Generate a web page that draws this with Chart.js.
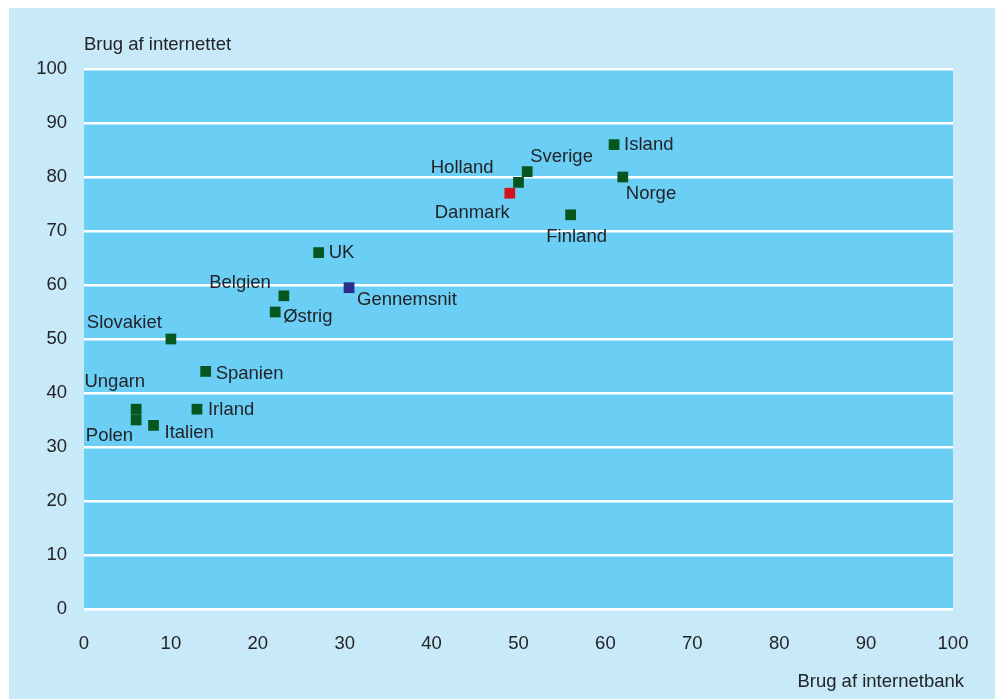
<!DOCTYPE html>
<html>
<head>
<meta charset="utf-8">
<script src="https://cdn.jsdelivr.net/npm/chart.js@4/dist/chart.umd.min.js"></script>
<style>
  html, body { margin: 0; padding: 0; background: #fff; }
  #wrap { width: 995px; height: 699px; position: relative; }
</style>
</head>
<body>
<div id="wrap"><canvas id="scatter" width="995" height="699"></canvas></div>
<script>
// Countries, share using internet banking (x) and share using the internet (y)
const countries = ["Island", "Norge", "Sverige", "Holland", "Danmark", "Finland", "UK",
  "Gennemsnit", "Belgien", "Østrig", "Slovakiet", "Spanien", "Irland", "Ungarn", "Polen", "Italien"];
const internetbank = [61, 62, 51, 50, 49, 56, 27, 30.5, 23, 22, 10, 14, 13, 6, 6, 8];
const internettet = [86, 80, 81, 79, 77, 73, 66, 59.5, 58, 55, 50, 44, 37, 37, 35, 34];
const tickValues = [0, 10, 20, 30, 40, 50, 60, 70, 80, 90, 100];

const xTitle = "Brug af internetbank";
const yTitle = "Brug af internettet";

// where each country name sits relative to its marker
const labelPlacement = {
  Island:     { dx: 10, dy: 0,   align: "left" },
  Norge:      { dx: 3,  dy: 17,  align: "left" },
  Sverige:    { dx: 3,  dy: -15, align: "left" },
  Holland:    { dx: -25, dy: -14, align: "right" },
  Danmark:    { dx: 0,  dy: 20,  align: "right" },
  Finland:    { dx: 6,  dy: 22,  align: "center" },
  UK:         { dx: 10, dy: 0,   align: "left" },
  Gennemsnit: { dx: 8,  dy: 12,  align: "left" },
  Belgien:    { dx: -13, dy: -13, align: "right" },
  "Østrig":   { dx: 8,  dy: 5,   align: "left" },
  Slovakiet:  { dx: -9, dy: -16, align: "right" },
  Spanien:    { dx: 10, dy: 3,   align: "left" },
  Irland:     { dx: 11, dy: 1,   align: "left" },
  Ungarn:     { dx: 9,  dy: -27, align: "right" },
  Polen:      { dx: -3, dy: 16,  align: "right" },
  Italien:    { dx: 11, dy: 8,   align: "left" }
};

const GREEN = "#06571f";
const pointColors = countries.map(c =>
  c === "Danmark" ? "#d2121f" : c === "Gennemsnit" ? "#2b2d8c" : GREEN);

const FONT = "'Liberation Sans', Arial, sans-serif";
const FONT_SIZE = 18.5;
const TEXT = "#232327";

const panelBackground = {
  id: "panelBackground",
  beforeDraw(chart) {
    const { ctx, chartArea: a } = chart;
    ctx.save();
    ctx.fillStyle = "#ffffff";
    ctx.fillRect(0, 0, chart.width, chart.height);
    ctx.fillStyle = "#c7e9f8";
    ctx.fillRect(9, 8, chart.width - 9, chart.height - 8);
    ctx.fillStyle = "#6bcff5";
    ctx.fillRect(a.left, a.top, a.right - a.left, a.bottom - a.top);
    ctx.restore();
  }
};

const pointNames = {
  id: "pointNames",
  afterDatasetsDraw(chart) {
    const { ctx } = chart;
    const meta = chart.getDatasetMeta(0);
    ctx.save();
    ctx.font = FONT_SIZE + "px " + FONT;
    ctx.fillStyle = TEXT;
    ctx.textBaseline = "middle";
    meta.data.forEach((pt, i) => {
      const p = labelPlacement[countries[i]];
      ctx.textAlign = p.align;
      ctx.fillText(countries[i], pt.x + p.dx, pt.y + p.dy);
    });
    // axis titles
    ctx.textAlign = "left";
    ctx.fillText(yTitle, 84, 45);
    ctx.textAlign = "right";
    ctx.fillText(xTitle, 964, 682);
    ctx.restore();
  }
};

new Chart(document.getElementById("scatter"), {
  type: "scatter",
  data: {
    datasets: [{
      data: countries.map((c, i) => ({ x: internetbank[i], y: internettet[i] })),
      pointStyle: "rect",
      pointRadius: 7.6,
      pointHoverRadius: 7.6,
      pointBackgroundColor: pointColors,
      pointBorderColor: pointColors,
      pointBorderWidth: 0
    }]
  },
  options: {
    responsive: false,
    animation: false,
    layout: { padding: { top: 69, right: 42, left: 0, bottom: 0 } },
    plugins: { legend: { display: false }, tooltip: { enabled: false } },
    scales: {
      x: {
        type: "linear", min: 0, max: 100,
        afterBuildTicks: s => { s.ticks = tickValues.map(v => ({ value: v })); },
        afterFit: s => { s.height = 90; },
        grid: { display: false, drawTicks: false },
        border: { display: false },
        ticks: { color: TEXT, font: { family: FONT, size: FONT_SIZE }, padding: 24, maxRotation: 0 }
      },
      y: {
        type: "linear", min: 0, max: 100,
        afterBuildTicks: s => { s.ticks = tickValues.map(v => ({ value: v })); },
        afterFit: s => { s.width = 84; },
        grid: { color: "#ffffff", lineWidth: 2.5, drawTicks: false },
        border: { display: false },
        ticks: { color: TEXT, font: { family: FONT, size: FONT_SIZE }, padding: 17 }
      }
    }
  },
  plugins: [panelBackground, pointNames]
});
</script>
</body>
</html>
